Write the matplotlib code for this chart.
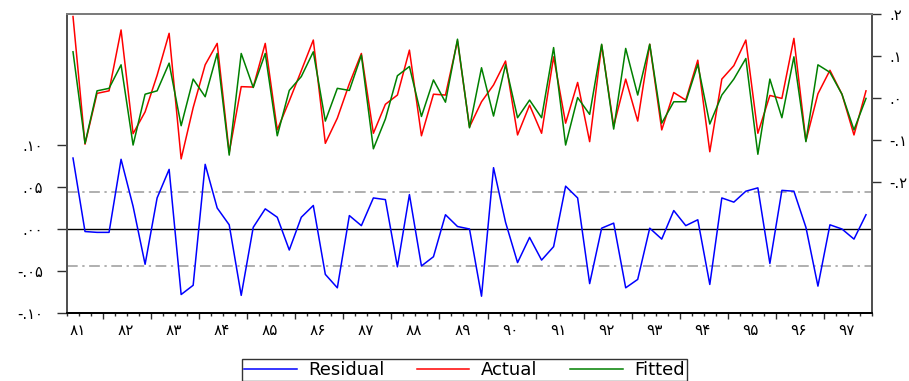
import matplotlib
matplotlib.use("Agg")
import matplotlib.pyplot as plt
import matplotlib.transforms as mtransforms
import numpy as np

# ---------------- data (quarterly, 1381Q2 .. 1397Q4) ----------------
years = ["۸۱", "۸۲", "۸۳", "۸۴", "۸۵", "۸۶", "۸۷", "۸۸", "۸۹",
         "۹۰", "۹۱", "۹۲", "۹۳", "۹۴", "۹۵", "۹۶", "۹۷"]
first_quarter = 2   # series starts in Q2 of the first year

actual = [0.194, -0.110, 0.011, 0.017, 0.162, -0.085, -0.033, 0.054, 0.154, -0.145,
          -0.023, 0.079, 0.130, -0.130, 0.027, 0.026, 0.130, -0.076, -0.007, 0.065,
          0.138, -0.108, -0.048, 0.034, 0.106, -0.084, -0.015, 0.007, 0.114, -0.090,
          0.009, 0.007, 0.136, -0.069, -0.009, 0.031, 0.088, -0.088, -0.017, -0.084,
          0.098, -0.060, 0.037, -0.104, 0.126, -0.067, 0.045, -0.055, 0.128, -0.076,
          0.013, -0.005, 0.090, -0.128, 0.045, 0.077, 0.138, -0.084, 0.006, -0.001,
          0.142, -0.102, 0.010, 0.066, 0.009, -0.088, 0.017]

fitted = [0.110, -0.108, 0.017, 0.023, 0.079, -0.112, 0.009, 0.017, 0.083, -0.066,
          0.045, 0.003, 0.106, -0.136, 0.106, 0.025, 0.106, -0.090, 0.018, 0.051,
          0.110, -0.055, 0.023, 0.018, 0.102, -0.121, -0.050, 0.053, 0.075, -0.044,
          0.043, -0.010, 0.140, -0.071, 0.072, -0.043, 0.079, -0.047, -0.005, -0.047,
          0.120, -0.112, 0.001, -0.039, 0.128, -0.074, 0.118, 0.007, 0.128, -0.060,
          -0.009, -0.009, 0.080, -0.062, 0.007, 0.045, 0.094, -0.134, 0.045, -0.047,
          0.098, -0.104, 0.079, 0.061, 0.009, -0.076, -0.001]

residual = [0.0845, -0.003, -0.004, -0.004, 0.083, 0.027, -0.042, 0.037, 0.071, -0.078,
            -0.067, 0.077, 0.025, 0.005, -0.079, 0.002, 0.024, 0.014, -0.025, 0.014,
            0.028, -0.054, -0.070, 0.016, 0.004, 0.037, 0.035, -0.045, 0.041, -0.044,
            -0.033, 0.017, 0.003, 0.000, -0.080, 0.073, 0.008, -0.040, -0.010, -0.037,
            -0.021, 0.051, 0.037, -0.065, 0.001, 0.007, -0.070, -0.060, 0.001, -0.012,
            0.022, 0.004, 0.011, -0.066, 0.037, 0.032, 0.045, 0.049, -0.041, 0.046,
            0.045, 0.002, -0.068, 0.005, 0.000, -0.012, 0.017]

resid_std = 0.0445

left_ticks = [-0.10, -0.05, 0.0, 0.05, 0.10]
left_labels = ["-.۱۰", "-.۰۵", ".۰۰", ".۰۵", ".۱۰"]
right_ticks = [-0.2, -0.1, 0.0, 0.1, 0.2]
right_labels = ["-.۲", "-.۱", ".۰", ".۱", ".۲"]

# ---------------- figure ----------------
W, H = 909, 381
fig = plt.figure(figsize=(W / 100, H / 100), dpi=100)
plt.rcParams['font.family'] = ['DejaVu Sans']

L, R, T, B = 67, 872, 14, 313
ax = fig.add_axes([L / W, 1 - B / H, (R - L) / W, (B - T) / H])
ax2 = ax.twinx()

x = np.arange(len(actual))

# residual (left axis)
ax.axhline(0, color="black", lw=1.0, zorder=1)
ax.axhline(resid_std, color="#9a9a9a", lw=1.1, ls=(0, (7, 3, 1.5, 3)), zorder=1)
ax.axhline(-resid_std, color="#9a9a9a", lw=1.1, ls=(0, (7, 3, 1.5, 3)), zorder=1)
l_res, = ax.plot(x, residual, color="#0000ff", lw=1.1, zorder=3, label="Residual")

# actual / fitted (right axis)
l_act, = ax2.plot(x, actual, color="#ff0000", lw=1.1, zorder=3, label="Actual")
l_fit, = ax2.plot(x, fitted, color="#008000", lw=1.1, zorder=4, label="Fitted")

ax.set_xlim(-0.43, len(actual) - 1 + 0.4)
ax.set_ylim(-0.10, 0.256)
ax2.set_ylim(-0.512, 0.20)

ax.set_yticks(left_ticks)
ax.set_yticklabels(left_labels, fontsize=10.5)
ax2.set_yticks(right_ticks)
ax2.set_yticklabels(right_labels, fontsize=10.5)

ax.tick_params(axis="y", direction="out", length=7.5, width=1.0, pad=10, color="#303030")
ax2.tick_params(axis="y", direction="out", length=6.5, width=1.0, pad=6, color="#303030")

# x ticks: quarter boundaries (minor) and year boundaries (major)
n_years = len(years)
year_start_idx = [4 * k - (first_quarter - 1) for k in range(n_years)]
quarter_bounds = np.arange(-0.5, len(actual), 1.0)
year_bounds = [s - 0.5 for s in year_start_idx if s - 0.5 > -0.43]
ax.set_xticks(year_bounds)
ax.set_xticklabels([])
ax.set_xticks(quarter_bounds, minor=True)
ax.tick_params(axis="x", which="major", direction="out", length=4.5, width=1.0, color="#303030")
ax.tick_params(axis="x", which="minor", direction="out", length=2.5, width=1.0, color="#303030")

trans = mtransforms.blended_transform_factory(ax.transData, ax.transAxes)
for k, lab in enumerate(years):
    cx = year_start_idx[k] + 1.4
    ax.text(cx, -0.033, lab, transform=trans, ha="center", va="top", fontsize=11)

for a in (ax, ax2):
    for s in a.spines.values():
        s.set_color("#505050")
        s.set_linewidth(1.3)
ax2.spines["top"].set_color("#808080")
ax2.spines["bottom"].set_color("black")
ax.spines["bottom"].set_color("black")

leg = fig.legend([l_res, l_act, l_fit], ["Residual", "Actual", "Fitted"],
                 loc="upper left", bbox_to_anchor=(242 / W, 1 - 359 / H),
                 ncol=3, frameon=True, fancybox=False, edgecolor="black",
                 borderaxespad=0, handlelength=2.9, handletextpad=0.65,
                 columnspacing=1.8, borderpad=0.12,
                 prop={"family": "DejaVu Sans", "size": 13})
leg.get_frame().set_linewidth(1.0)

fig.savefig("out.png", dpi=100)
